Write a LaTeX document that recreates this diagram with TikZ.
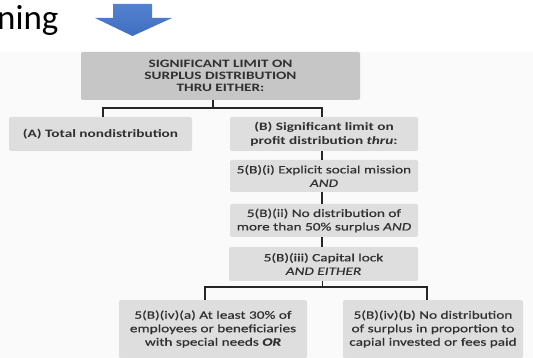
\documentclass[tikz,border=0pt]{standalone}
\usepackage{fontspec}
\setmainfont{Carlito}
\newfontfamily\cardfont[FakeStretch=1.35]{Carlito}
\newfontfamily\cardplainfont[FakeStretch=1.35, FakeBold=0.5]{Carlito}
\usetikzlibrary{calc}
\definecolor{boxdark}{HTML}{C6C6C6}
\definecolor{boxlight}{HTML}{DEDEDE}
\definecolor{inkgray}{HTML}{303030}
\definecolor{arrowblue}{HTML}{3F6EC2}
\definecolor{arrowtop}{HTML}{5582CE}
\definecolor{pagebg}{HTML}{FAFAFA}
\begin{document}
\begin{tikzpicture}[x=1pt,y=-1pt,
  card/.style={rectangle, rounded corners=2pt, draw=none, align=center,
    text=inkgray, inner sep=0pt},
  headcard/.style={card, fill=boxdark, font=\cardfont\bfseries\fontsize{11.3}{12}\selectfont},
  boldcard/.style={card, fill=boxlight, font=\cardfont\bfseries\fontsize{11.3}{14}\selectfont},
  plaincard/.style={card, fill=boxlight, font=\cardplainfont\fontsize{11.3}{13.5}\selectfont},
  link/.style={draw=black!85, line width=1.3pt}]
\useasboundingbox (0,0) rectangle (533,358);
% slide background
\fill[white] (0,0) rectangle (533,358);
\fill[pagebg] (0,52) rectangle (533,358);
% title fragment, cut by the left edge
\node[anchor=base west, inner sep=0pt, font=\fontsize{35}{40}\selectfont, text=black] (title) at (-3,30) {ning};
% block arrow
\shade[top color=arrowtop, bottom color=arrowblue]
  (113,4) -- (152,4) -- (152,18) -- (172,18) -- (132.5,36) -- (95,18) -- (113,18) -- cycle;
% boxes
\node[headcard, minimum width=279pt, minimum height=48pt] (top) at (220.5,76)
  {SIGNIFICANT LIMIT ON\\SURPLUS DISTRIBUTION\\THRU EITHER:};
\node[boldcard, minimum width=183pt, minimum height=34pt] (A) at (100.5,134)
  {(A) Total nondistribution};
\node[boldcard, minimum width=188pt, minimum height=34pt] (B) at (324,134)
  {(B) Significant limit on\\profit distribution \textit{thru}:};
\node[plaincard, minimum width=188pt, minimum height=32pt] (i) at (324,176)
  {5(B)(i) Explicit social mission\\\textit{AND}};
\node[plaincard, minimum width=188pt, minimum height=33pt] (ii) at (324,220.5)
  {5(B)(ii) No distribution of\\more than 50\% surplus \textit{AND}};
\node[plaincard, minimum width=189pt, minimum height=34pt] (iii) at (323.5,264)
  {5(B)(iii) Capital lock\\\textit{AND EITHER}};
\node[plaincard, minimum width=188pt, minimum height=58pt] (iva) at (213,329)
  {5(B)(iv)(a) At least 30\% of\\employees or beneficiaries\\with special needs \textbf{\textit{OR}}};
\node[plaincard, minimum width=180pt, minimum height=58pt] (ivb) at (433,329)
  {5(B)(iv)(b) No distribution\\of surplus in proportion to\\capial invested or fees paid};
% connectors
\coordinate (j1) at (213,108);
\coordinate (j2) at (322.5,287);
\draw[link] (j1 |- top.south) -- (j1);
\draw[link] ([xshift=2.5pt]A.north) |- (j1) -| ([xshift=-2pt]B.north);
\draw[link] ([xshift=-2pt]B.south) -- ([xshift=-2pt]i.north);
\draw[link] ([xshift=-2pt]i.south) -- ([xshift=-2pt]ii.north);
\draw[link] ([xshift=-2pt]ii.south) -- ([xshift=-1.5pt]iii.north);
\draw[link] (j2 |- iii.south) -- (j2);
\draw[link] ([xshift=-8pt]iva.north) |- (j2) -| ([xshift=-6pt]ivb.north);
\end{tikzpicture}
\end{document}
